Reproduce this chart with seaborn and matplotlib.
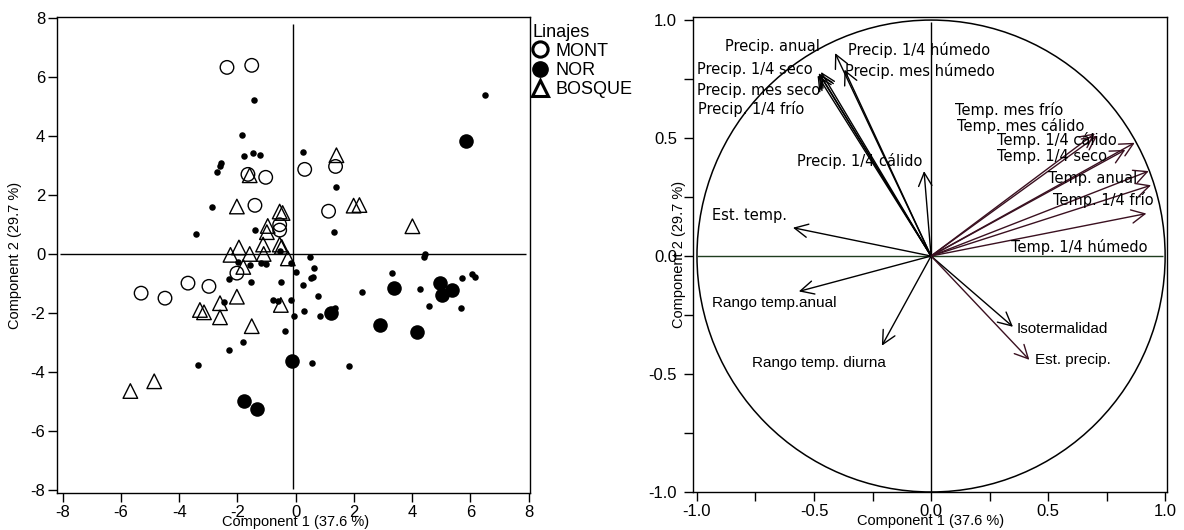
import numpy as np
import pandas as pd
import seaborn as sns
import matplotlib.pyplot as plt
from matplotlib.lines import Line2D
from matplotlib.patches import Circle

# ---- scores (left panel) ----
mont_x = [-2.36, -1.51, -1.64, -1.03, -1.40, -0.55, -0.55, 0.31, 1.37, 1.13,
          -2.02, -5.31, -4.49, -3.70, -2.98]
mont_y = [6.34, 6.41, 2.71, 2.61, 1.66, 1.00, 0.82, 2.88, 2.98, 1.46,
          -0.64, -1.32, -1.49, -0.98, -1.09]

nor_x = [5.86, -0.14, -1.78, -1.33, 3.39, 1.23, 2.91, 4.18, 4.97, 5.38, 5.03]
nor_y = [3.83, -3.63, -4.98, -5.25, -1.15, -2.00, -2.41, -2.64, -0.98, -1.22, -1.38]

bosque_x = [1.40, 1.99, 2.19, 4.01, -1.58, -2.02, -0.55, -0.45, -0.96, -0.99,
            -1.12, -0.55, -0.48, -1.95, -2.24, -1.58, -1.10, -0.27, -1.80, -2.02,
            -2.60, -3.29, -3.15, -2.60, -1.51, -0.51, -5.68, -4.86]
bosque_y = [3.36, 1.65, 1.67, 0.95, 2.68, 1.62, 1.45, 1.40, 0.96, 0.75,
            0.33, 0.33, 0.25, 0.23, -0.02, 0.01, 0.01, -0.14, -0.43, -1.44,
            -1.66, -1.89, -1.97, -2.14, -2.44, -1.72, -4.64, -4.31]

otros_x = [-1.44, -1.85, -1.78, -1.47, -1.23, -2.57, -2.60, -2.71, -2.88, -3.42,
           -1.40, -0.55, 6.51, 0.24, 1.40, 1.30, 0.48, 4.45, 4.42, -1.98,
           -1.58, -1.20, -1.03, -0.15, 0.00, -2.29, -1.54, -0.51, -2.47, -0.79,
           -0.62, -0.15, -0.07, -0.38, -1.80, -2.29, -3.36, 0.62, 0.51, 0.59,
           0.24, 0.75, 0.27, 0.82, 1.34, 2.29, 3.32, 4.28, 4.59, 5.72,
           5.68, 6.06, 6.16, 0.55, 1.82]
otros_y = [5.25, 4.03, 3.35, 3.45, 3.36, 3.11, 3.00, 2.80, 1.62, 0.70,
           0.83, 0.10, 5.40, 3.47, 2.29, 0.74, -0.09, 0.02, -0.10, -0.25,
           -0.36, -0.31, -0.34, -0.30, -0.59, -0.84, -0.93, -0.93, -1.63, -1.55,
           -1.60, -1.55, -2.10, -2.62, -2.99, -3.26, -3.76, -0.45, -0.81, -0.76,
           -1.05, -1.43, -1.92, -2.10, -1.83, -1.29, -0.62, -1.19, -1.76, -0.81,
           -1.83, -0.68, -0.78, -3.69, -3.80]

# ---- loadings (right panel) ----
variables = ["Precip. anual", "Precip. 1/4 húmedo", "Precip. 1/4 seco",
             "Precip. mes húmedo", "Precip. mes seco", "Precip. 1/4 frío",
             "Precip. 1/4 cálido", "Est. temp.", "Temp. mes frío",
             "Temp. mes cálido", "Temp. 1/4 cálido", "Temp. 1/4 seco",
             "Temp. anual", "Temp. 1/4 frío", "Temp. 1/4 húmedo",
             "Rango temp.anual", "Rango temp. diurna", "Isotermalidad",
             "Est. precip."]
load_pc1 = [-0.47, -0.41, -0.48, -0.37, -0.475, -0.485, -0.03, -0.59, 0.70,
            0.71, 0.87, 0.83, 0.93, 0.94, 0.92, -0.565, -0.21, 0.35, 0.42]
load_pc2 = [0.78, 0.86, 0.775, 0.79, 0.77, 0.765, 0.36, 0.12, 0.52,
            0.51, 0.48, 0.45, 0.36, 0.30, 0.18, -0.15, -0.38, -0.30, -0.44]

# label placement: offset in pixels from arrow tip
label_offsets = {
    "Precip. anual": (-96, 25), "Precip. 1/4 húmedo": (13, 3),
    "Precip. 1/4 seco": (-122, 4), "Precip. mes húmedo": (1, -1),
    "Precip. mes seco": (-123, -16), "Precip. 1/4 frío": (-120, -33),
    "Precip. 1/4 cálido": (-127, 10), "Est. temp.": (-81, 12),
    "Temp. mes frío": (-140, 23), "Temp. mes cálido": (-140, 10),
    "Temp. 1/4 cálido": (-138, 3), "Temp. 1/4 seco": (-128, -7),
    "Temp. anual": (-101, -7), "Temp. 1/4 frío": (-98, -15),
    "Temp. 1/4 húmedo": (-135, -33), "Rango temp.anual": (-87, -12),
    "Rango temp. diurna": (-130, -17), "Isotermalidad": (4, -2),
    "Est. precip.": (6, 0),
}
helv_labels = {"Rango temp.anual", "Rango temp. diurna", "Isotermalidad", "Est. precip."}
maroon_arrows = {"Temp. mes frío", "Temp. mes cálido", "Temp. 1/4 cálido",
                 "Temp. 1/4 seco", "Temp. anual", "Temp. 1/4 frío",
                 "Temp. 1/4 húmedo", "Est. precip."}

sns.set_theme(style="ticks")
plt.rcParams['font.family'] = ['Liberation Sans', 'DejaVu Sans']
plt.rcParams['axes.unicode_minus'] = False
plt.rcParams['text.color'] = 'black'
plt.rcParams['axes.labelcolor'] = 'black'

fig = plt.figure(figsize=(11.84, 5.3), dpi=100)
ax1 = fig.add_axes([57 / 1184, 37 / 530, 473 / 1184, 476 / 530])
ax2 = fig.add_axes([693 / 1184, 38 / 530, 474 / 1184, 475 / 530])

for ax in (ax1, ax2):
    for s in ax.spines.values():
        s.set_color("black")
        s.set_linewidth(1.0)
    ax.tick_params(direction="out", length=6.5, width=1, color="black",
                   labelsize=12, labelcolor="black", pad=2)
ax2.tick_params(axis="y", pad=5)

# ---- left panel ----
ax1.hlines(0, -8.1, 7.9, color="black", lw=1)
ax1.vlines(-0.1, -7.95, 7.8, color="black", lw=1)

sns.scatterplot(x=otros_x, y=otros_y, ax=ax1, marker="o", s=22,
                color="black", edgecolor="black", linewidth=0, zorder=3)
sns.scatterplot(x=nor_x, y=nor_y, ax=ax1, marker="o", s=110,
                color="black", edgecolor="black", linewidth=0, zorder=3)
sns.scatterplot(x=mont_x, y=mont_y, ax=ax1, marker="o", s=95,
                facecolor="none", edgecolor="black", linewidth=1.0, zorder=4)
sns.scatterplot(x=bosque_x, y=bosque_y, ax=ax1, marker="^", s=110,
                facecolor="none", edgecolor="black", linewidth=1.0, zorder=4)

ax1.set_xlim(-8.2, 8.05)
ax1.set_ylim(-8.1, 8.05)
ax1.set_xticks(np.arange(-8, 9, 2))
ax1.set_yticks(np.arange(-8, 9, 2))
ax1.set_xlabel("Component 1 (37.6 %)", fontsize=10.5)
ax1.set_ylabel("Component 2 (29.7 %)", fontsize=10.5)
ax1.xaxis.set_label_coords(0.505, -0.046)
ax1.yaxis.set_label_coords(-0.074, 0.5)

handles = [
    Line2D([], [], marker="o", ls="", ms=11, mfc="none", mec="black", mew=2.2),
    Line2D([], [], marker="o", ls="", ms=11, mfc="black", mec="black"),
    Line2D([], [], marker="^", ls="", ms=12, mfc="none", mec="black", mew=2.2),
]
leg = fig.legend(handles, ["MONT", "NOR", "BOSQUE"], title="Linajes",
                 loc="upper left", bbox_to_anchor=(529 / 1184, 1 - 20 / 530),
                 frameon=False, fontsize=13, title_fontsize=13,
                 handlelength=0.8, handletextpad=0.45, labelspacing=0.12,
                 borderpad=0.2, borderaxespad=0)
leg._legend_box.align = "left"

# ---- right panel ----
ax2.add_patch(Circle((0, 0), 1, fill=False, color="black", lw=1.1))
ax2.hlines(0, -1, 0.99, color="#1f3d1f", lw=1)
ax2.vlines(0, -1, 0.99, color="black", lw=1)

for name, lx, ly in zip(variables, load_pc1, load_pc2):
    col = "#3a1020" if name in maroon_arrows else "black"
    ax2.annotate("", xy=(lx, ly), xytext=(0, 0),
                 arrowprops=dict(arrowstyle="->,head_length=0.8,head_width=0.4",
                                 color=col, lw=1.0, shrinkA=0, shrinkB=0,
                                 mutation_scale=12))
    dx, dy = label_offsets[name]
    fam = "Liberation Sans" if name in helv_labels else "DejaVu Sans"
    fs = 11 if name in helv_labels else 10.5
    ax2.annotate(name, xy=(lx, ly), xytext=(dx, dy), textcoords="offset pixels",
                 ha="left", va="center", fontsize=fs, family=fam, color="black")

ax2.set_xlim(-1.017, 1.008)
ax2.set_ylim(-1.0, 1.013)
quarters = np.arange(-1, 1.01, 0.25)
ax2.set_xticks(quarters)
ax2.set_yticks(quarters)
qlabels = [f"{q:.1f}" if abs(q * 2 - round(q * 2)) < 1e-9 else "" for q in quarters]
ax2.set_xticklabels(qlabels)
ax2.set_yticklabels(qlabels)
ax2.set_xlabel("Component 1 (37.6 %)", fontsize=10.5)
ax2.set_ylabel("Component 2 (29.7 %)", fontsize=10.5)
ax2.xaxis.set_label_coords(0.502, -0.046)
ax2.yaxis.set_label_coords(-0.014, 0.5)

fig.savefig("out.png", dpi=100)
